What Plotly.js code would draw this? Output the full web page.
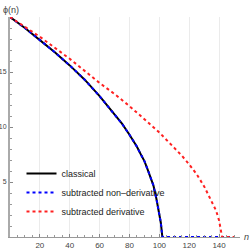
<!DOCTYPE html>
<html><head><meta charset="utf-8">
<script src="https://cdn.plot.ly/plotly-3.0.1.min.js"></script>
<style>html,body{margin:0;padding:0;background:#fff;}#chart{width:251px;height:251px;}</style>
</head><body><div id="chart"></div>
<script>
// classical
const nClassical = [0, 10, 20, 30, 40, 50, 60, 65, 70, 75, 80, 85, 88, 90, 92, 94, 96, 98, 100, 101, 102];
const phiClassical = [20, 19.0, 17.9, 16.8, 15.6, 14.3, 12.8, 12.0, 11.2, 10.3, 9.3, 8.2, 7.4, 6.9, 6.2, 5.5, 4.7, 3.5, 2.2, 1.3, 0];
// subtracted non-derivative
const nNonDeriv = [0, 10, 20, 30, 40, 50, 60, 65, 70, 75, 80, 85, 88, 90, 92, 94, 96, 98, 100, 101, 102, 110, 120, 130, 140, 150];
const phiNonDeriv = [20, 19.0, 17.9, 16.8, 15.6, 14.3, 12.8, 12.0, 11.2, 10.3, 9.3, 8.2, 7.4, 6.9, 6.2, 5.5, 4.7, 3.5, 2.2, 1.3, 0, 0, 0, 0, 0, 0];
// subtracted derivative
const nDeriv = [0, 10, 20, 30, 40, 50, 60, 70, 80, 90, 100, 110, 115, 120, 125, 130, 135, 138, 140, 142, 150];
const phiDeriv = [20, 19.1, 18.2, 17.2, 16.2, 15.1, 14.0, 13.0, 11.9, 10.7, 9.5, 8.1, 7.4, 6.6, 5.7, 4.6, 3.3, 2.4, 1.5, 0, 0];

const xTicks = [20, 40, 60, 80, 100, 120, 140];
const yTicks = [5, 10, 15];
const seriesNames = ["classical", "subtracted non\u2013derivative", "subtracted derivative"];

const traces = [
  {x: nClassical, y: phiClassical, name: seriesNames[0], mode: "lines",
   line: {color: "#000000", width: 2}},
  {x: nNonDeriv, y: phiNonDeriv, name: seriesNames[1], mode: "lines",
   line: {color: "#0000ff", width: 2, dash: "3px,3px"}},
  {x: nDeriv, y: phiDeriv, name: seriesNames[2], mode: "lines",
   line: {color: "#ff2020", width: 2, dash: "3px,3px"}}
];

const layout = {
  width: 251, height: 251,
  margin: {l: 10, r: 11, t: 17, b: 14, pad: 0},
  paper_bgcolor: "#fff", plot_bgcolor: "#fff",
  font: {family: "Liberation Sans, Arial, sans-serif", size: 8, color: "#333"},
  showlegend: true,
  legend: {x: 0.05, y: 0.355, xanchor: "left", yanchor: "top",
           bgcolor: "rgba(0,0,0,0)", font: {size: 9, color: "#222"}},
  xaxis: {range: [0, 154], tickvals: xTicks, ticktext: xTicks.map(String),
          showgrid: true, gridcolor: "#ebebeb", gridwidth: 1,
          zeroline: false, showline: true, linecolor: "#999", linewidth: 1,
          ticks: "inside", ticklen: 3, tickcolor: "#888", tickfont: {size: 8, color: "#444"},
          minor: {dtick: 5, ticklen: 2, tickcolor: "#999", ticks: "inside", showgrid: false}},
  yaxis: {range: [0, 20], tickvals: yTicks, ticktext: yTicks.map(String),
          showgrid: false, zeroline: false, showline: true, linecolor: "#aaa", linewidth: 2,
          ticks: "inside", ticklen: 3, tickcolor: "#888", tickfont: {size: 7, color: "#444"},
          ticklabelstandoff: 0,
          minor: {dtick: 1, ticklen: 2, tickcolor: "#999", ticks: "inside", showgrid: false}},
  annotations: [
    {text: "\u03d5(n)", xref: "paper", yref: "paper", x: -0.04, y: 1.0, xanchor: "left", yanchor: "bottom",
     showarrow: false, font: {size: 9, color: "#444"}},
    {text: "<i>n</i>", xref: "paper", yref: "paper", x: 1.01, y: 0, xanchor: "left", yanchor: "middle",
     showarrow: false, font: {size: 9, color: "#444"}}
  ]
};
Plotly.newPlot("chart", traces, layout, {displayModeBar: false, staticPlot: true});
</script></body></html>
